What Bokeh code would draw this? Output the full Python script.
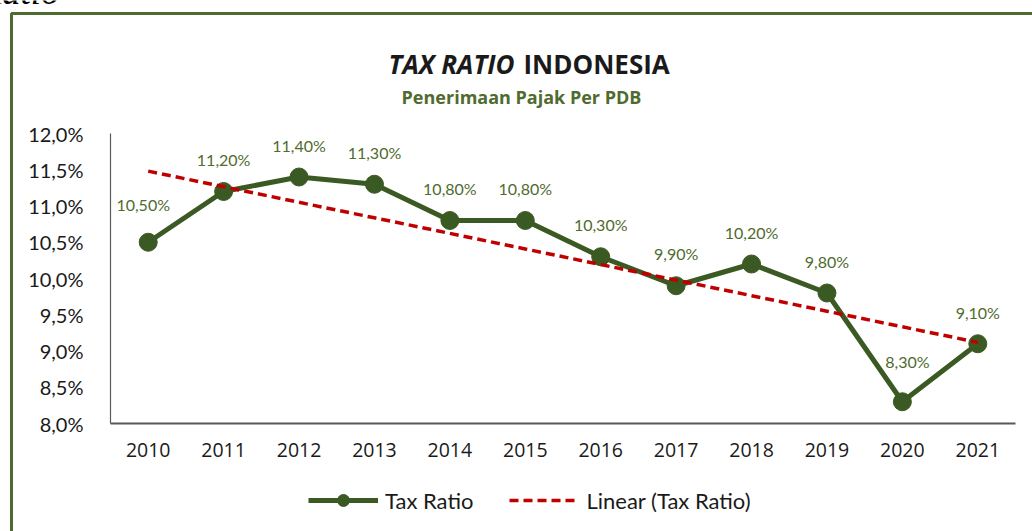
import numpy as np
from bokeh.plotting import figure
from bokeh.models import Range1d, FixedTicker, BoxAnnotation, Label, Legend, LegendItem
from bokeh.core.properties import value
from bokeh.embed import file_html
from bokeh.resources import INLINE

# ---------------- data ----------------
years = ["2010", "2011", "2012", "2013", "2014", "2015",
         "2016", "2017", "2018", "2019", "2020", "2021"]
tax_ratio = [10.5, 11.2, 11.4, 11.3, 10.8, 10.8, 10.3, 9.9, 10.2, 9.8, 8.3, 9.1]
data_labels = ["10,50%", "11,20%", "11,40%", "11,30%", "10,80%", "10,80%",
               "10,30%", "9,90%", "10,20%", "9,80%", "8,30%", "9,10%"]
y_ticks = [8.0, 8.5, 9.0, 9.5, 10.0, 10.5, 11.0, 11.5, 12.0]
y_tick_labels = ["8,0%", "8,5%", "9,0%", "9,5%", "10,0%", "10,5%", "11,0%", "11,5%", "12,0%"]
title_italic = "TAX RATIO"
title_bold = "INDONESIA"
subtitle = "Penerimaan Pajak Per PDB"
series_name = "Tax Ratio"
trend_name = "Linear (Tax Ratio)"
doc_text = "Ratio"

# label placement (style)
label_dx = [-5, 0, 0, 0, 0, 0, 0, 0, 0, 0, 5, 0]
label_dy = [-38, -32, -32, -32, -32, -32, -32, -32, -32, -32, -40, -31]

# category positions on a numeric axis (centre of each category slot)
xpos = list(np.arange(len(years)) + 0.5)

# linear trendline (as Excel's "Linear" trendline)
xi = np.arange(1, len(years) + 1)
slope, intercept = np.polyfit(xi, tax_ratio, 1)
trend = list(slope * xi + intercept)

# ---------------- layout (pixels) ----------------
W, H = 1032, 531
PLOT_L, PLOT_R = 110, 1015      # plot area in page pixels
PLOT_T, PLOT_B = 133, 423
Y_MIN, Y_MAX = 8, 12
N = len(years)
px_x = (PLOT_R - PLOT_L) / N
px_y = (PLOT_B - PLOT_T) / (Y_MAX - Y_MIN)


def xd(px):
    return (px - PLOT_L) / px_x


def yd(py):
    return Y_MIN + (PLOT_B - py) / px_y


FONT = "Lato"
TFONT = "Open Sans"
GREEN = "#3b5a23"
LABEL_GREEN = "#4f6b2e"
BORDER_GREEN = "#4e6b30"
RED = "#c00000"
AXIS_GRAY = "#595959"

p = figure(width=W, height=H,
           x_range=Range1d(xd(0), xd(W)), y_range=Range1d(yd(H), yd(0)),
           output_backend="svg", toolbar_location=None,
           min_border=0, min_border_left=0, min_border_right=0,
           min_border_top=0, min_border_bottom=0)
p.xgrid.visible = False
p.ygrid.visible = False
p.outline_line_color = None
p.background_fill_color = "white"
p.border_fill_color = "white"

# axes (fixed inside the canvas)
p.yaxis.fixed_location = 0
p.yaxis.bounds = (Y_MIN, Y_MAX)
p.yaxis.ticker = FixedTicker(ticks=y_ticks)
p.yaxis.major_label_overrides = dict(zip(y_ticks, y_tick_labels))
p.xaxis.fixed_location = Y_MIN
p.xaxis.bounds = (0, N)
p.xaxis.ticker = FixedTicker(ticks=xpos)
p.xaxis.major_label_overrides = dict(zip(xpos, years))
for ax in (p.xaxis, p.yaxis):
    ax.major_tick_line_color = None
    ax.minor_tick_line_color = None
    ax.major_tick_out = 0
    ax.major_tick_in = 0
    ax.minor_tick_out = 0
    ax.minor_tick_in = 0
    ax.axis_line_color = AXIS_GRAY
    ax.major_label_text_color = "#1a1a1a"
p.yaxis.axis_line_width = 1.2
p.yaxis.major_label_text_font = FONT
p.yaxis.major_label_text_font_size = "20px"
p.yaxis.major_label_standoff = 27
p.xaxis.axis_line_width = 2
p.xaxis.major_label_text_font = TFONT
p.xaxis.major_label_text_font_size = "19.5px"
p.xaxis.major_label_standoff = 19

# series
line_r = p.line(xpos, tax_ratio, line_color=GREEN, line_width=5)
# smaller marker underneath the data markers, used for the legend swatch
legend_dot = p.scatter(xpos, tax_ratio, size=13, fill_color=GREEN, line_color=GREEN)
dot_r = p.scatter(xpos, tax_ratio, size=18, fill_color=GREEN, line_color=GREEN)
trend_r = p.line(xpos, trend, line_color=RED, line_width=3.5, line_dash="9 5")

p.text(x=xpos, y=tax_ratio, text=data_labels, x_offset=label_dx, y_offset=label_dy,
       text_font=value(FONT), text_font_size="16px", text_color=LABEL_GREEN,
       text_align="center", text_baseline="middle")

# titles
p.add_layout(Label(x=xd(514), y=yd(63), text=title_italic,
                   text_align="right", text_baseline="alphabetic", text_font=TFONT,
                   text_font_style="bold italic", text_font_size="26px", text_color="#1a1a1a"))
p.add_layout(Label(x=xd(523), y=yd(63), text=title_bold,
                   text_align="left", text_baseline="alphabetic", text_font=TFONT,
                   text_font_style="bold", text_font_size="26px", text_color="#1a1a1a"))
p.add_layout(Label(x=xd(521), y=yd(96), text=subtitle,
                   text_align="center", text_baseline="alphabetic", text_font=TFONT,
                   text_font_style="bold", text_font_size="18px", text_color=LABEL_GREEN))

# clipped document text above the chart box
p.add_layout(Label(x=xd(59), y=yd(-9), text=doc_text,
                   text_align="right", text_baseline="alphabetic",
                   text_font="Liberation Serif", text_font_style="italic",
                   text_font_size="37px", text_color="black"))

# legend
legend = Legend(items=[LegendItem(label=series_name, renderers=[line_r, legend_dot]),
                       LegendItem(label=trend_name, renderers=[trend_r])],
                orientation="horizontal", location=(308, H - 515),
                glyph_width=70, glyph_height=30, label_text_font=FONT,
                label_text_font_size="22px", label_text_color="#1a1a1a",
                padding=0, margin=0, spacing=36, label_standoff=7,
                border_line_color=None, background_fill_alpha=0)
p.add_layout(legend)

# outer border of chart area
p.add_layout(BoxAnnotation(left=xd(11), right=xd(W + 100), top=yd(13), bottom=yd(H + 100),
                           fill_alpha=0, line_color=BORDER_GREEN, line_alpha=1, line_width=3))

open("out.html", "w").write(file_html(p, INLINE))
